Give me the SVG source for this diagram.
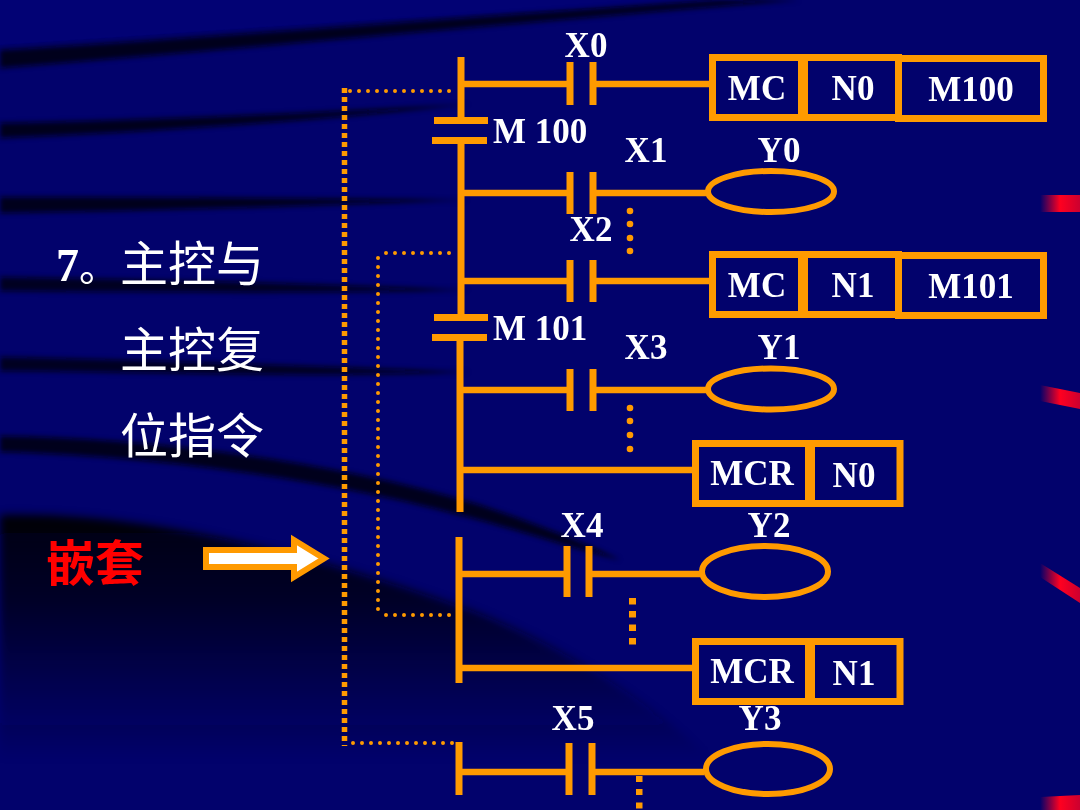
<svg xmlns="http://www.w3.org/2000/svg" width="1080" height="810" viewBox="0 0 1080 810">
<defs>
<style>
.w{stroke:#FF9A00;stroke-width:6.5;fill:none}
.r{stroke:#FF9A00;stroke-width:7;fill:none}
.bx{stroke:#FF9A00;stroke-width:7;fill:none}
.co{stroke:#FF9A00;stroke-width:6;fill:none}
.dr{stroke:#FF9A00;stroke-width:4;fill:none;stroke-linecap:round;stroke-dasharray:0 9}
.ds{stroke:#FF9A00;stroke-width:5.5;fill:none;stroke-dasharray:5 4}
.dot{fill:#FF9A00}
.t{font-family:"Liberation Serif","Times New Roman",serif;font-weight:bold;font-size:35px;fill:#fff;text-anchor:middle}
.tl{font-family:"Liberation Serif","Times New Roman",serif;font-weight:bold;font-size:35px;fill:#fff}
.cjk{font-family:"Noto Sans CJK SC","Noto Sans",sans-serif;font-size:48px;fill:#fff}
</style>
<filter id="blur" x="-10%" y="-50%" width="120%" height="200%"><feGaussianBlur stdDeviation="2.5"/></filter>
<filter id="blur3" x="-10%" y="-10%" width="120%" height="120%"><feGaussianBlur stdDeviation="4"/></filter>
<linearGradient id="red1" x1="0" y1="0" x2="1" y2="0">
<stop offset="0" stop-color="#ff0020" stop-opacity="0"/>
<stop offset="0.5" stop-color="#ff0020" stop-opacity="1"/>
<stop offset="1" stop-color="#ff0020" stop-opacity="0.8"/>
</linearGradient>
<linearGradient id="dark" gradientUnits="userSpaceOnUse" x1="0" y1="515" x2="0" y2="760">
<stop offset="0" stop-color="#000005" stop-opacity="0.95"/>
<stop offset="0.35" stop-color="#000010" stop-opacity="0.75"/>
<stop offset="1" stop-color="#000020" stop-opacity="0"/>
</linearGradient>
</defs>

<g id="background">
<rect x="0" y="0" width="1080" height="810" fill="#02026c"/>
<path d="M0,0 L760,0 C500,10 250,28 0,45 Z" fill="#04047a" opacity="0.6"/>
<g fill="#000010" filter="url(#blur)">
<path d="M0,50 C200,38 450,18 720,0 L800,0 C520,22 250,48 0,68 Z" opacity="0.85"/>
<path d="M0,123 C150,120 320,113 470,104 C330,120 150,132 0,138 Z" opacity="0.85"/>
<path d="M0,197 C150,197 300,198 470,200 C300,206 150,211 0,213 Z" opacity="0.85"/>
<path d="M0,277 C150,279 320,284 470,290 C320,294 150,292 0,291 Z" opacity="0.8"/>
<path d="M0,357 C150,360 320,366 470,372 C320,378 150,372 0,371 Z" opacity="0.8"/>
<path d="M0,436 C150,438 330,460 480,505 C540,525 590,545 620,560 C560,545 520,530 460,515 C330,480 150,455 0,452 Z" opacity="0.85"/>
</g>
<path d="M0,515 C150,510 330,560 470,610 C600,660 700,740 760,810 L0,810 Z" fill="url(#dark)" filter="url(#blur3)"/>
<path d="M1040,195 L1080,195 L1080,212 L1040,212 Z" fill="url(#red1)"/>
<path d="M1040,385 L1080,393 L1080,409 L1040,401 Z" fill="url(#red1)"/>
<path d="M1040,563 L1080,588 L1080,603 L1040,577 Z" fill="url(#red1)"/>
<path d="M1040,797 L1080,795 L1080,810 L1040,810 Z" fill="url(#red1)"/>
</g>

<g id="connectors">
<line class="r" x1="461" y1="57" x2="461" y2="120"/>
<line class="r" x1="461" y1="140" x2="461" y2="317"/>
<line class="r" x1="460" y1="337" x2="460" y2="512"/>
<line class="r" x1="459" y1="537" x2="459" y2="683"/>
<line class="r" x1="459" y1="742" x2="459" y2="795"/>
<line class="w" x1="461" y1="84" x2="567" y2="84"/>
<line class="w" x1="596" y1="84" x2="710" y2="84"/>
<line class="w" x1="461" y1="193" x2="567" y2="193"/>
<line class="w" x1="596" y1="193" x2="706" y2="193"/>
<line class="w" x1="461" y1="281" x2="567" y2="281"/>
<line class="w" x1="596" y1="281" x2="710" y2="281"/>
<line class="w" x1="460" y1="390" x2="567" y2="390"/>
<line class="w" x1="596" y1="390" x2="706" y2="390"/>
<line class="w" x1="460" y1="470" x2="694" y2="470"/>
<line class="w" x1="459" y1="574" x2="564" y2="574"/>
<line class="w" x1="592" y1="574" x2="700" y2="574"/>
<line class="w" x1="459" y1="668" x2="694" y2="668"/>
<line class="w" x1="459" y1="772" x2="566" y2="772"/>
<line class="w" x1="595" y1="772" x2="704" y2="772"/>
<line class="dr" x1="350" y1="91" x2="456" y2="91"/>
<line class="ds" x1="344.5" y1="88" x2="344.5" y2="746"/>
<line class="dr" x1="353" y1="743" x2="456" y2="743"/>
<line class="dr" x1="386" y1="253" x2="456" y2="253"/>
<line class="dr" x1="378" y1="258" x2="378" y2="612"/>
<line class="dr" x1="386" y1="615" x2="456" y2="615"/>
</g>

<g id="contact-M100">
<line class="r" x1="434" y1="120.5" x2="488" y2="120.5"/>
<line class="r" x1="432" y1="140.5" x2="487" y2="140.5"/>
<text class="tl" x="493" y="143">M 100</text>
</g>
<g id="contact-M101">
<line class="r" x1="434" y1="317.5" x2="488" y2="317.5"/>
<line class="r" x1="432" y1="337.5" x2="487" y2="337.5"/>
<text class="tl" x="493" y="340">M 101</text>
</g>

<g id="contact-X0">
<line class="r" x1="570" y1="62" x2="570" y2="105"/>
<line class="r" x1="593" y1="62" x2="593" y2="105"/>
<text class="t" x="586" y="57">X0</text>
</g>
<g id="contact-X1">
<line class="r" x1="570" y1="172" x2="570" y2="214"/>
<line class="r" x1="593" y1="172" x2="593" y2="214"/>
<text class="t" x="646" y="162">X1</text>
</g>
<g id="contact-X2">
<line class="r" x1="570" y1="260" x2="570" y2="302"/>
<line class="r" x1="593" y1="260" x2="593" y2="302"/>
<text class="t" x="591" y="241">X2</text>
</g>
<g id="contact-X3">
<line class="r" x1="570" y1="369" x2="570" y2="411"/>
<line class="r" x1="593" y1="369" x2="593" y2="411"/>
<text class="t" x="646" y="359">X3</text>
</g>
<g id="contact-X4">
<line class="r" x1="567" y1="546" x2="567" y2="597"/>
<line class="r" x1="589" y1="546" x2="589" y2="597"/>
<text class="t" x="582" y="537">X4</text>
</g>
<g id="contact-X5">
<line class="r" x1="569" y1="743" x2="569" y2="795"/>
<line class="r" x1="592" y1="743" x2="592" y2="795"/>
<text class="t" x="573" y="730">X5</text>
</g>

<g id="coil-Y0">
<ellipse class="co" cx="771" cy="191.5" rx="63" ry="20.5"/>
<text class="t" x="779" y="162">Y0</text>
</g>
<g id="coil-Y1">
<ellipse class="co" cx="771" cy="389" rx="63" ry="20.5"/>
<text class="t" x="779" y="359">Y1</text>
</g>
<g id="coil-Y2">
<ellipse class="co" cx="765" cy="571.5" rx="63" ry="25.5"/>
<text class="t" x="769" y="537">Y2</text>
</g>
<g id="coil-Y3">
<ellipse class="co" cx="768" cy="769" rx="62" ry="25"/>
<text class="t" x="760" y="730">Y3</text>
</g>

<g id="instr-MC-N0-M100">
<rect class="bx" x="712.5" y="57.5" width="89" height="60"/>
<rect class="bx" x="804.5" y="57.5" width="94" height="60"/>
<rect class="bx" x="898.5" y="58.5" width="145" height="60"/>
<text class="t" x="757" y="100">MC</text>
<text class="t" x="853" y="100">N0</text>
<text class="t" x="971" y="101">M100</text>
</g>
<g id="instr-MC-N1-M101">
<rect class="bx" x="712.5" y="254.5" width="89" height="60"/>
<rect class="bx" x="804.5" y="254.5" width="94" height="60"/>
<rect class="bx" x="898.5" y="255.5" width="145" height="60"/>
<text class="t" x="757" y="297">MC</text>
<text class="t" x="853" y="297">N1</text>
<text class="t" x="971" y="298">M101</text>
</g>
<g id="instr-MCR-N0">
<rect class="bx" x="695.5" y="443.5" width="113" height="60"/>
<rect class="bx" x="811.5" y="443.5" width="88.5" height="60"/>
<text class="t" x="752" y="485">MCR</text>
<text class="t" x="854" y="487">N0</text>
</g>
<g id="instr-MCR-N1">
<rect class="bx" x="695.5" y="641.5" width="113" height="60"/>
<rect class="bx" x="811.5" y="641.5" width="88.5" height="60"/>
<text class="t" x="752" y="683">MCR</text>
<text class="t" x="854" y="685">N1</text>
</g>

<g id="ellipsis-dots">
<circle class="dot" cx="630" cy="211" r="3.3"/>
<circle class="dot" cx="630" cy="224" r="3.3"/>
<circle class="dot" cx="630" cy="238" r="3.3"/>
<circle class="dot" cx="630" cy="251" r="3.3"/>
<circle class="dot" cx="630" cy="408" r="3.3"/>
<circle class="dot" cx="630" cy="421" r="3.3"/>
<circle class="dot" cx="630" cy="435" r="3.3"/>
<circle class="dot" cx="630" cy="449" r="3.3"/>
<rect class="dot" x="629" y="598" width="7" height="6.5"/>
<rect class="dot" x="629" y="611" width="7" height="6.5"/>
<rect class="dot" x="629" y="624.5" width="7" height="6.5"/>
<rect class="dot" x="629" y="638" width="7" height="6.5"/>
<rect class="dot" x="636" y="776" width="6.5" height="6"/>
<rect class="dot" x="636" y="789" width="6.5" height="6"/>
<rect class="dot" x="636" y="802.5" width="6.5" height="6"/>
</g>

<g id="title">
<text class="cjk" y="281"><tspan x="56" style="font-family:'Liberation Serif',serif;font-weight:bold;font-size:46px">7</tspan><tspan x="79" style="font-size:40px">。</tspan><tspan x="120">主控与</tspan></text>
<text class="cjk" x="120" y="367">主控复</text>
<text class="cjk" x="120" y="453">位指令</text>
</g>

<g id="label-nesting">
<text x="46" y="581" style="font-family:'Noto Sans CJK SC',sans-serif;font-weight:bold;font-size:49px;fill:#ff0000">嵌套</text>
</g>

<g id="arrow">
<polygon points="206,550 294,550 294,540 324,558.5 294,577 294,567 206,567" fill="#ffffff" stroke="#FF9A00" stroke-width="6" stroke-linejoin="miter"/>
</g>
</svg>
